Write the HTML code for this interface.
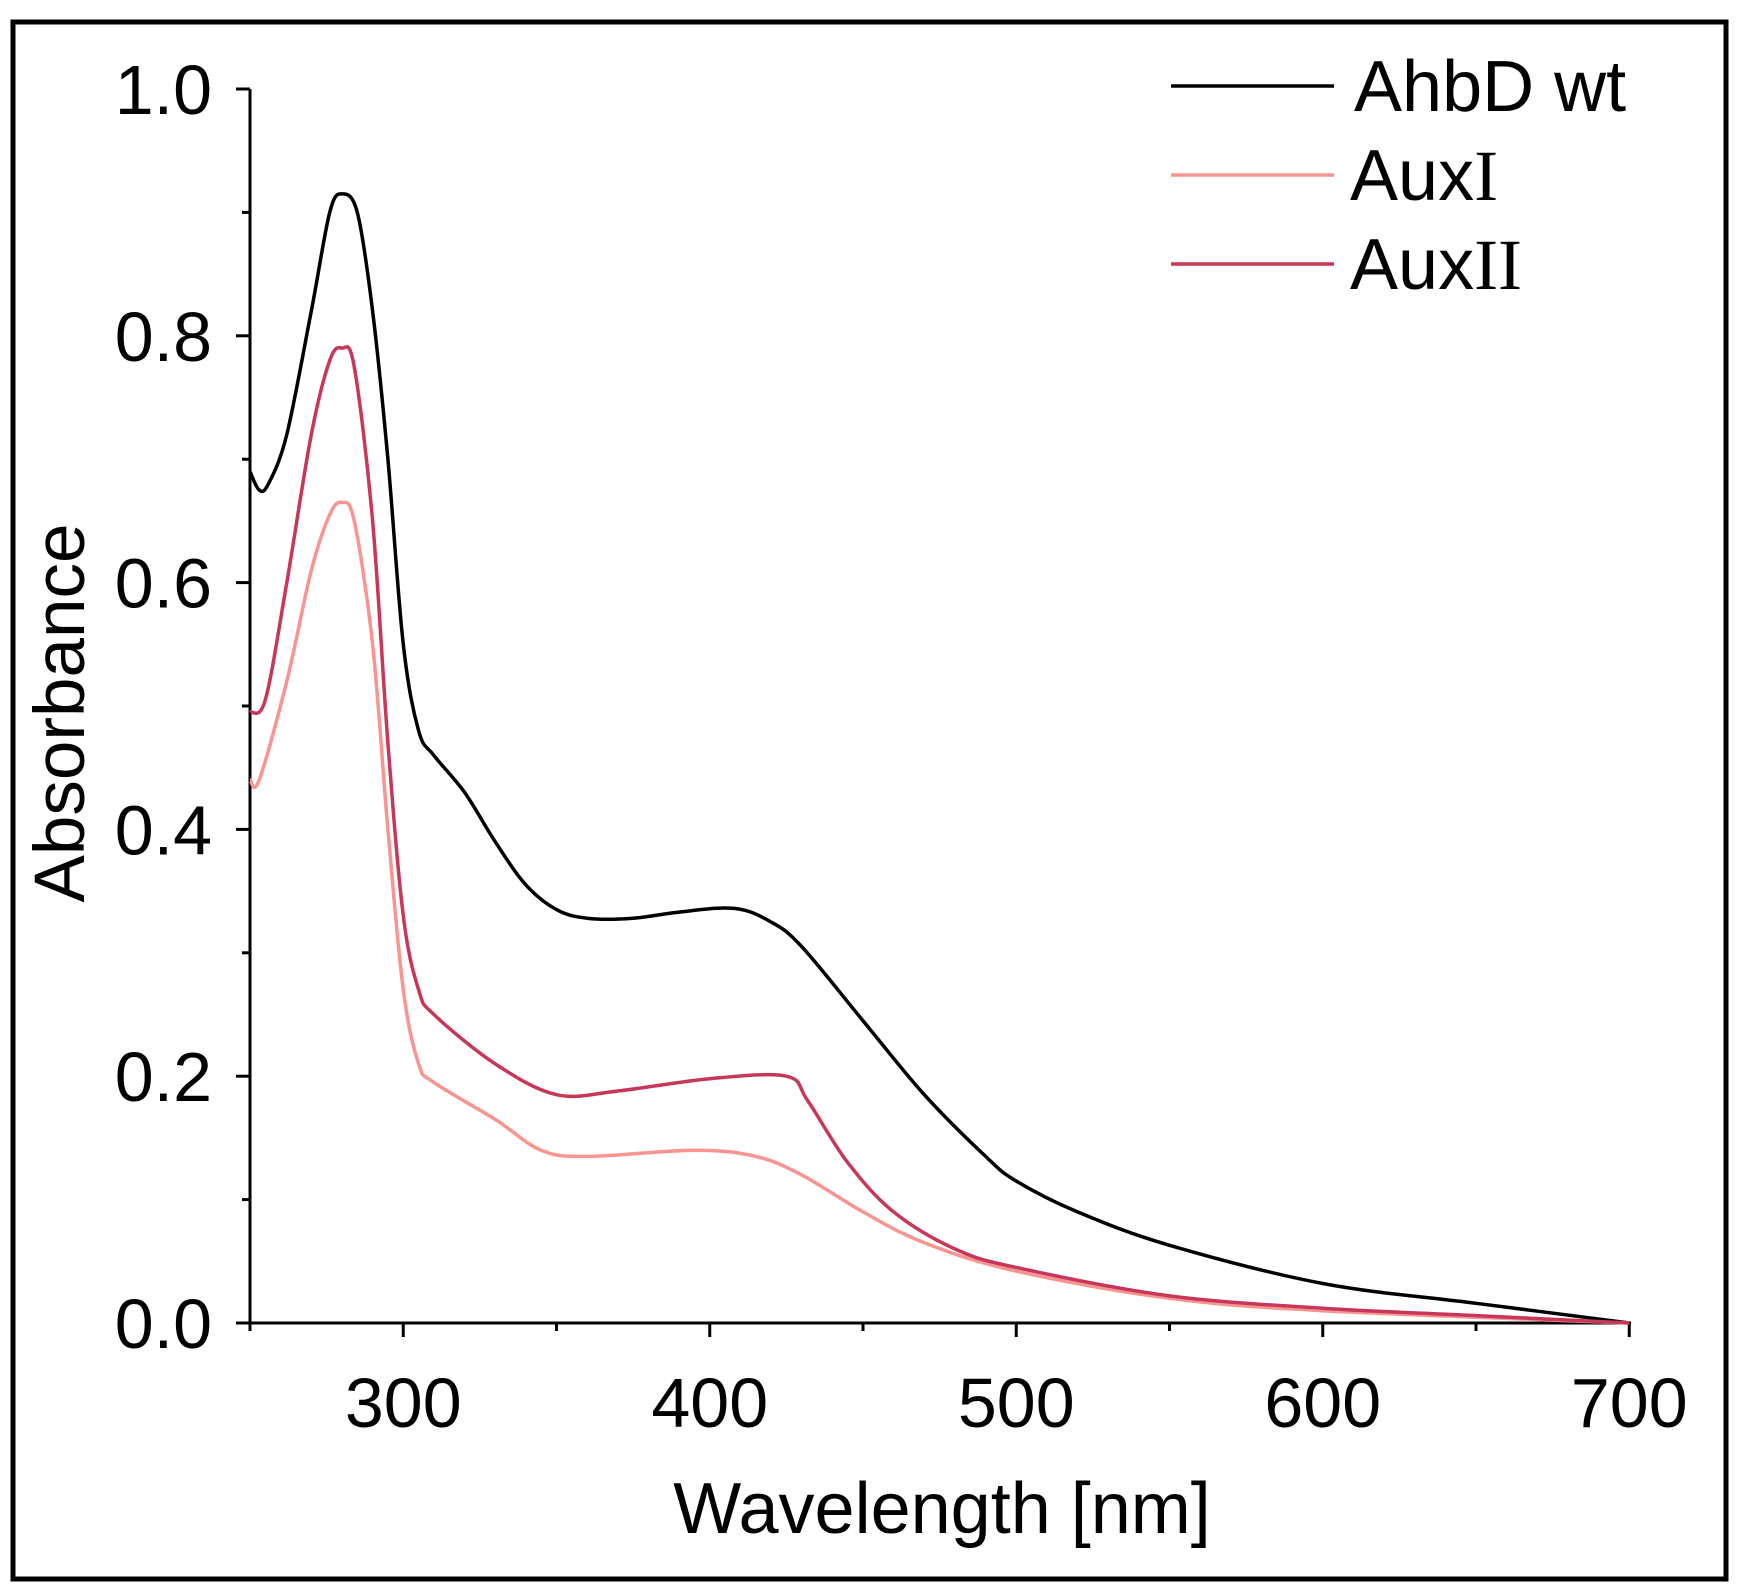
<!DOCTYPE html>
<html><head><meta charset="utf-8"><style>
html,body{margin:0;padding:0;background:#fff;}
svg{display:block;font-family:"Liberation Sans",Arial,sans-serif;}
</style></head><body>
<svg id="s" width="1739" height="1588" viewBox="0 0 1739 1588" xmlns="http://www.w3.org/2000/svg">
<rect x="0" y="0" width="1739" height="1588" fill="#fff"/>
<rect x="13" y="22" width="1713" height="1557" fill="none" stroke="#000" stroke-width="5"/>
<g id="ax" stroke="#000" stroke-width="3" fill="none"></g>
<g id="lines" fill="none" stroke-width="3.5" stroke-linejoin="round"></g>
<g font-size="70" fill="#000" text-anchor="end" id="ylab"></g>
<g font-size="70" fill="#000" text-anchor="middle" id="xlab"></g>
<text x="942" y="1533" font-size="72" text-anchor="middle">Wavelength [nm]</text>
<text transform="translate(84,713) rotate(-90)" font-size="71" text-anchor="middle">Absorbance</text>
<line x1="1171" y1="86" x2="1334" y2="86" stroke="#000" stroke-width="3.5"/>
<line x1="1171" y1="175" x2="1334" y2="175" stroke="#f99490" stroke-width="3.5"/>
<line x1="1171" y1="264" x2="1334" y2="264" stroke="#c8375a" stroke-width="3.5"/>
<text x="1354" y="111" font-size="72">AhbD wt</text>
<text x="1350" y="200" font-size="72">Aux<tspan font-family="Liberation Serif,serif">I</tspan></text>
<text x="1350" y="289" font-size="72">Aux<tspan font-family="Liberation Serif,serif">II</tspan></text>
</svg>
<script>
var X=function(w){return 250+(w-250)*306.5/100;};
var Y=function(a){return 1323-a*1234;};
var ax=document.getElementById('ax'),NS='http://www.w3.org/2000/svg';
function ln(x1,y1,x2,y2,p){var l=document.createElementNS(NS,'line');l.setAttribute('x1',x1);l.setAttribute('y1',y1);l.setAttribute('x2',x2);l.setAttribute('y2',y2);(p||ax).appendChild(l);}
ln(250,89,250,1324);ln(249,1323,1631,1323);
for(var i=0;i<=10;i++){var y=Y(i/10);ln(i%2?242:236,y,250,y);}
for(var w=250;w<=700;w+=50){var x=X(w);ln(x,1323,x,w%100?1331:1337);}
var yl=document.getElementById('ylab'),xl=document.getElementById('xlab');
function tx(p,x,y,s){var t=document.createElementNS(NS,'text');t.setAttribute('x',x);t.setAttribute('y',y);t.textContent=s;p.appendChild(t);}
for(var i=0;i<=5;i++)tx(yl,212,Y(i*0.2)+25,(i*0.2).toFixed(1));
for(var w=300;w<=700;w+=100)tx(xl,X(w),1427,w);
var D={
'#000':[[250,.69],[253,.675],[256,.68],[262,.72],[270,.82],[276,.9],[280,.915],[285,.9],[290,.82],[295,.7],[300,.55],[305,.48],[310,.46],[320,.43],[330,.39],[340,.355],[350,.335],[360,.328],[375,.328],[390,.333],[408,.336],[420,.325],[430,.305],[450,.245],[470,.185],[490,.135],[500,.115],[520,.09],[550,.063],[600,.032],[650,.016],[700,0]],
'#f99490':[[250,.44],[253,.44],[262,.52],[270,.61],[276,.655],[280,.665],[284,.65],[290,.55],[295,.4],[300,.27],[305,.21],[310,.195],[330,.165],[345,.14],[360,.135],[395,.14],[415,.135],[430,.12],[450,.09],[470,.065],[500,.042],[550,.02],[600,.01],[700,0]],
'#c8375a':[[250,.495],[255,.505],[262,.6],[270,.72],[276,.78],[280,.79],[284,.775],[290,.65],[295,.47],[300,.33],[305,.27],[310,.25],[330,.21],[350,.185],[370,.188],[400,.198],[425,.2],[432,.18],[445,.13],[460,.09],[480,.06],[500,.045],[550,.022],[600,.012],[650,.006],[700,0]]};
var g=document.getElementById('lines');
['#000','#f99490','#c8375a'].forEach(function(c){
var P=D[c].map(function(p){return [X(p[0]),Y(p[1])];});
var d='M'+P[0][0]+','+P[0][1];
for(var i=0;i<P.length-1;i++){var p0=P[i-1]||P[i],p1=P[i],p2=P[i+1],p3=P[i+2]||p2;
var t=0.5/3;
d+='C'+(p1[0]+(p2[0]-p0[0])*t).toFixed(1)+','+(p1[1]+(p2[1]-p0[1])*t).toFixed(1)+' '+(p2[0]-(p3[0]-p1[0])*t).toFixed(1)+','+(p2[1]-(p3[1]-p1[1])*t).toFixed(1)+' '+p2[0].toFixed(1)+','+p2[1].toFixed(1);}
var p=document.createElementNS(NS,'path');p.setAttribute('d',d);p.setAttribute('stroke',c);g.appendChild(p);});
</script>
</body></html>
